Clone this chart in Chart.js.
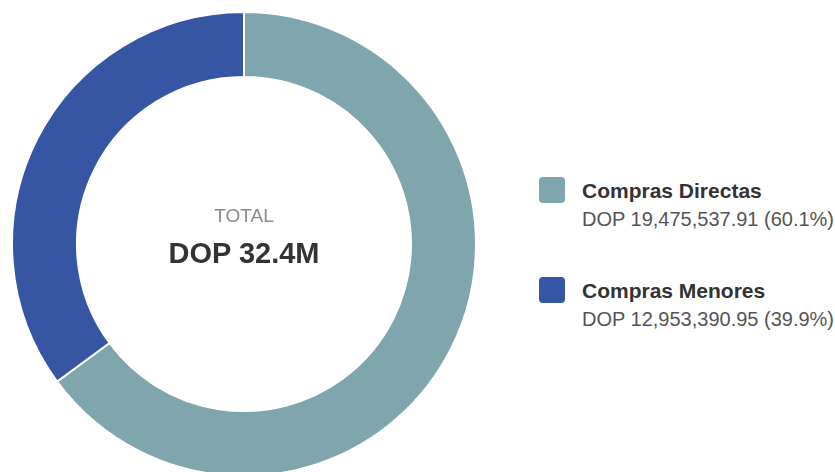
<!DOCTYPE html>
<html>
<head>
<meta charset="utf-8">
<script src="https://cdn.jsdelivr.net/npm/chart.js@4/dist/chart.umd.min.js"></script>
<style>
  html, body {
    margin: 0;
    padding: 0;
    width: 835px;
    height: 472px;
    overflow: hidden;
    background: #fff;
    font-family: "Liberation Sans", Arial, Helvetica, sans-serif;
  }
  #chartBox {
    position: absolute;
    left: 11px;
    top: 11px;
    width: 466px;
    height: 466px;
  }
  .center {
    position: absolute;
    left: 44px;
    width: 400px;
    text-align: center;
    white-space: nowrap;
  }
  #totalLabel {
    top: 206px;
    font-size: 19px;
    line-height: 19px;
    color: #8a8a8a;
  }
  #totalValue {
    top: 239px;
    font-size: 29px;
    line-height: 29px;
    font-weight: bold;
    color: #333;
  }
  #legend {
    position: absolute;
    left: 539px;
    top: 177px;
  }
  .item {
    position: relative;
    height: 100px;
  }
  .swatch {
    position: absolute;
    left: 0;
    top: 0;
    width: 26px;
    height: 26px;
    border-radius: 4px;
  }
  .name {
    position: absolute;
    left: 43px;
    top: 3px;
    font-size: 21px;
    line-height: 21px;
    font-weight: bold;
    color: #333;
    white-space: nowrap;
  }
  .amount {
    position: absolute;
    left: 43px;
    top: 32px;
    font-size: 20px;
    line-height: 20px;
    color: #555;
    white-space: nowrap;
  }
</style>
</head>
<body>
<div id="chartBox"><canvas id="donut"></canvas></div>
<div class="center" id="totalLabel"></div>
<div class="center" id="totalValue"></div>
<div id="legend"></div>

<script>
// categories and values
const categories = ["Compras Directas", "Compras Menores"];
const amounts = [19475537.91, 12953390.95];
const percents = [60.1, 39.9];
// slice sizes as drawn in the picture (%)
const sliceShares = [64.9, 35.1];
const colors = ["#7fa6ad", "#3656a3"];
const currency = "DOP";
const totalTitle = "TOTAL";
const totalText = "DOP 32.4M";

// center text
document.getElementById("totalLabel").textContent = totalTitle;
document.getElementById("totalValue").textContent = totalText;

// legend on the right
let legend = document.getElementById("legend");
for (let i = 0; i < categories.length; i++) {
  let item = document.createElement("div");
  item.className = "item";

  let swatch = document.createElement("div");
  swatch.className = "swatch";
  swatch.style.background = colors[i];

  let name = document.createElement("div");
  name.className = "name";
  name.textContent = categories[i];

  let amount = document.createElement("div");
  amount.className = "amount";
  amount.textContent =
    currency + " " +
    amounts[i].toLocaleString("en-US", {
      minimumFractionDigits: 2,
      maximumFractionDigits: 2,
    }) +
    " (" + percents[i].toFixed(1) + "%)";

  item.appendChild(swatch);
  item.appendChild(name);
  item.appendChild(amount);
  legend.appendChild(item);
}

// doughnut
let ctx = document.getElementById("donut").getContext("2d");
new Chart(ctx, {
  type: "doughnut",
  data: {
    labels: categories,
    datasets: [
      {
        data: sliceShares,
        backgroundColor: colors,
        borderColor: "#ffffff",
        borderWidth: 2,
      },
    ],
  },
  options: {
    responsive: true,
    maintainAspectRatio: false,
    animation: false,
    cutout: "72%",
    layout: {
      padding: 0,
    },
    plugins: {
      legend: {
        display: false,
      },
      tooltip: {
        enabled: false,
      },
    },
  },
});
</script>
</body>
</html>
